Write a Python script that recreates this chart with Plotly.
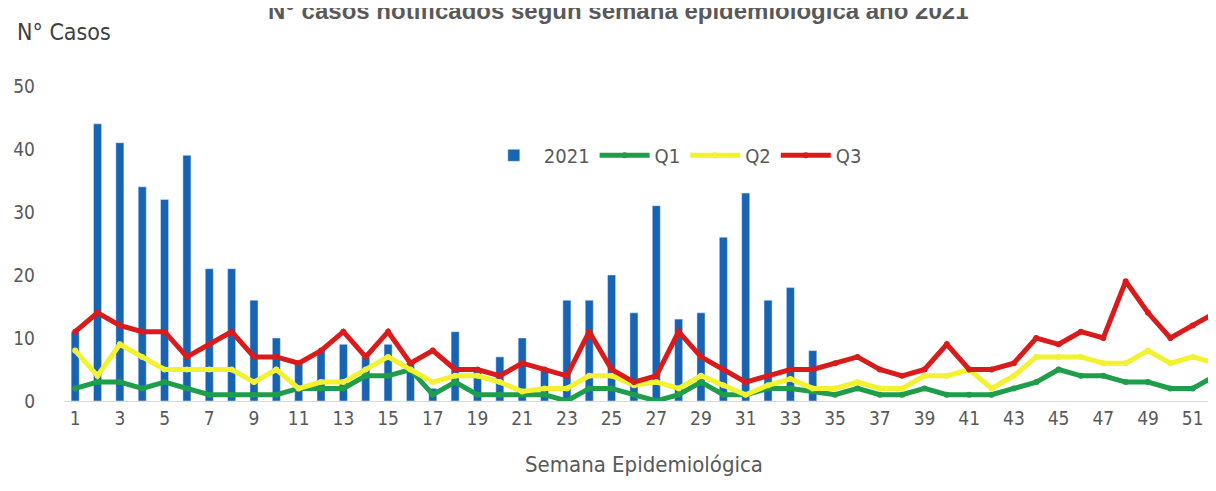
import plotly.graph_objects as go

weeks = list(range(1, 53))
casos_2021 = [11, 44, 41, 34, 32, 39, 21, 21, 16, 10, 6, 8, 9, 7, 9, 6, 2, 11, 5, 7,
              10, 5, 16, 16, 20, 14, 31, 13, 14, 26, 33, 16, 18, 8] + [None] * 18
q1 = [2, 3, 3, 2, 3, 2, 1, 1, 1, 1, 2, 2, 2, 4, 4, 5, 1, 3, 1, 1,
      1, 1, 0, 2, 2, 1, 0, 1, 3, 1, 1, 2, 2, 1.5, 1, 2, 1, 1, 2, 1,
      1, 1, 2, 3, 5, 4, 4, 3, 3, 2, 2, 4]
q2 = [8, 4, 9, 7, 5, 5, 5, 5, 3, 5, 2, 3, 3, 5, 7, 5, 3, 4, 4, 3,
      1.5, 2, 2, 4, 4, 2.5, 3, 2, 4, 2.5, 1, 2.5, 3.5, 2, 2, 3, 2, 2, 4, 4,
      5, 2, 4, 7, 7, 7, 6, 6, 8, 6, 7, 6]
q3 = [11, 14, 12, 11, 11, 7, 9, 11, 7, 7, 6, 8, 11, 7, 11, 6, 8, 5, 5, 4,
      6, 5, 4, 11, 5, 3, 4, 11, 7, 5, 3, 4, 5, 5, 6, 7, 5, 4, 5, 9,
      5, 5, 6, 10, 9, 11, 10, 19, 14, 10, 12, 14]
tick_vals = list(range(1, 53, 2))
tick_text = [str(v) for v in tick_vals]

FONT = "Liberation Sans Narrow, DejaVu Sans Condensed, Open Sans, sans-serif"
GREY = "#595959"

fig = go.Figure()
fig.add_trace(go.Bar(x=weeks, y=casos_2021, name="2021", marker_color="#1763B4",
                     width=0.36))
for name, vals, col in [("Q1", q1, "#1E9E4A"), ("Q2", q2, "#F2F230"), ("Q3", q3, "#D91B1B")]:
    fig.add_trace(go.Scatter(x=weeks, y=vals, name=name, mode="lines+markers",
                             line=dict(color=col, width=5),
                             marker=dict(color=col, size=6)))

fig.update_layout(
    width=1216, height=491,
    margin=dict(l=56, r=0, t=78, b=98),
    paper_bgcolor="white", plot_bgcolor="white",
    font=dict(family=FONT, color=GREY, size=17),
    showlegend=True,
    legend=dict(orientation="h", x=0.527, xanchor="center", y=0.78, yanchor="middle",
                font=dict(size=20, color=GREY), bgcolor="rgba(0,0,0,0)",
                itemwidth=50, traceorder="normal"),
)
fig.update_xaxes(range=[0.5, 52.4], tickmode="array", tickvals=tick_vals, ticktext=tick_text,
                 showline=True, linecolor="#D9D9D9", linewidth=1, showgrid=False,
                 ticks="", zeroline=False, tickfont=dict(size=19, color=GREY),
                 automargin=False,
                 title=dict(text="Semana Epidemiológica", font=dict(size=22, color=GREY), standoff=28))
fig.update_yaxes(range=[0, 50], dtick=10, showgrid=False, zeroline=False, showline=False,
                 ticks="", ticklabelstandoff=28, tickfont=dict(size=19, color=GREY),
                 automargin=False)

fig.add_annotation(text="N° casos notificados según semana epidemiológica año 2021",
                   xref="paper", yref="paper", x=0.478, y=1.19, xanchor="center", yanchor="bottom",
                   showarrow=False, font=dict(family="Liberation Sans, Arial, sans-serif",
                                              size=24, color=GREY, weight="bold"))
fig.add_annotation(text="N° Casos", xref="paper", yref="paper", x=-0.042, y=1.172,
                   xanchor="left", yanchor="middle", showarrow=False,
                   font=dict(size=23, color="#404040"))

fig.write_html("out.html")
